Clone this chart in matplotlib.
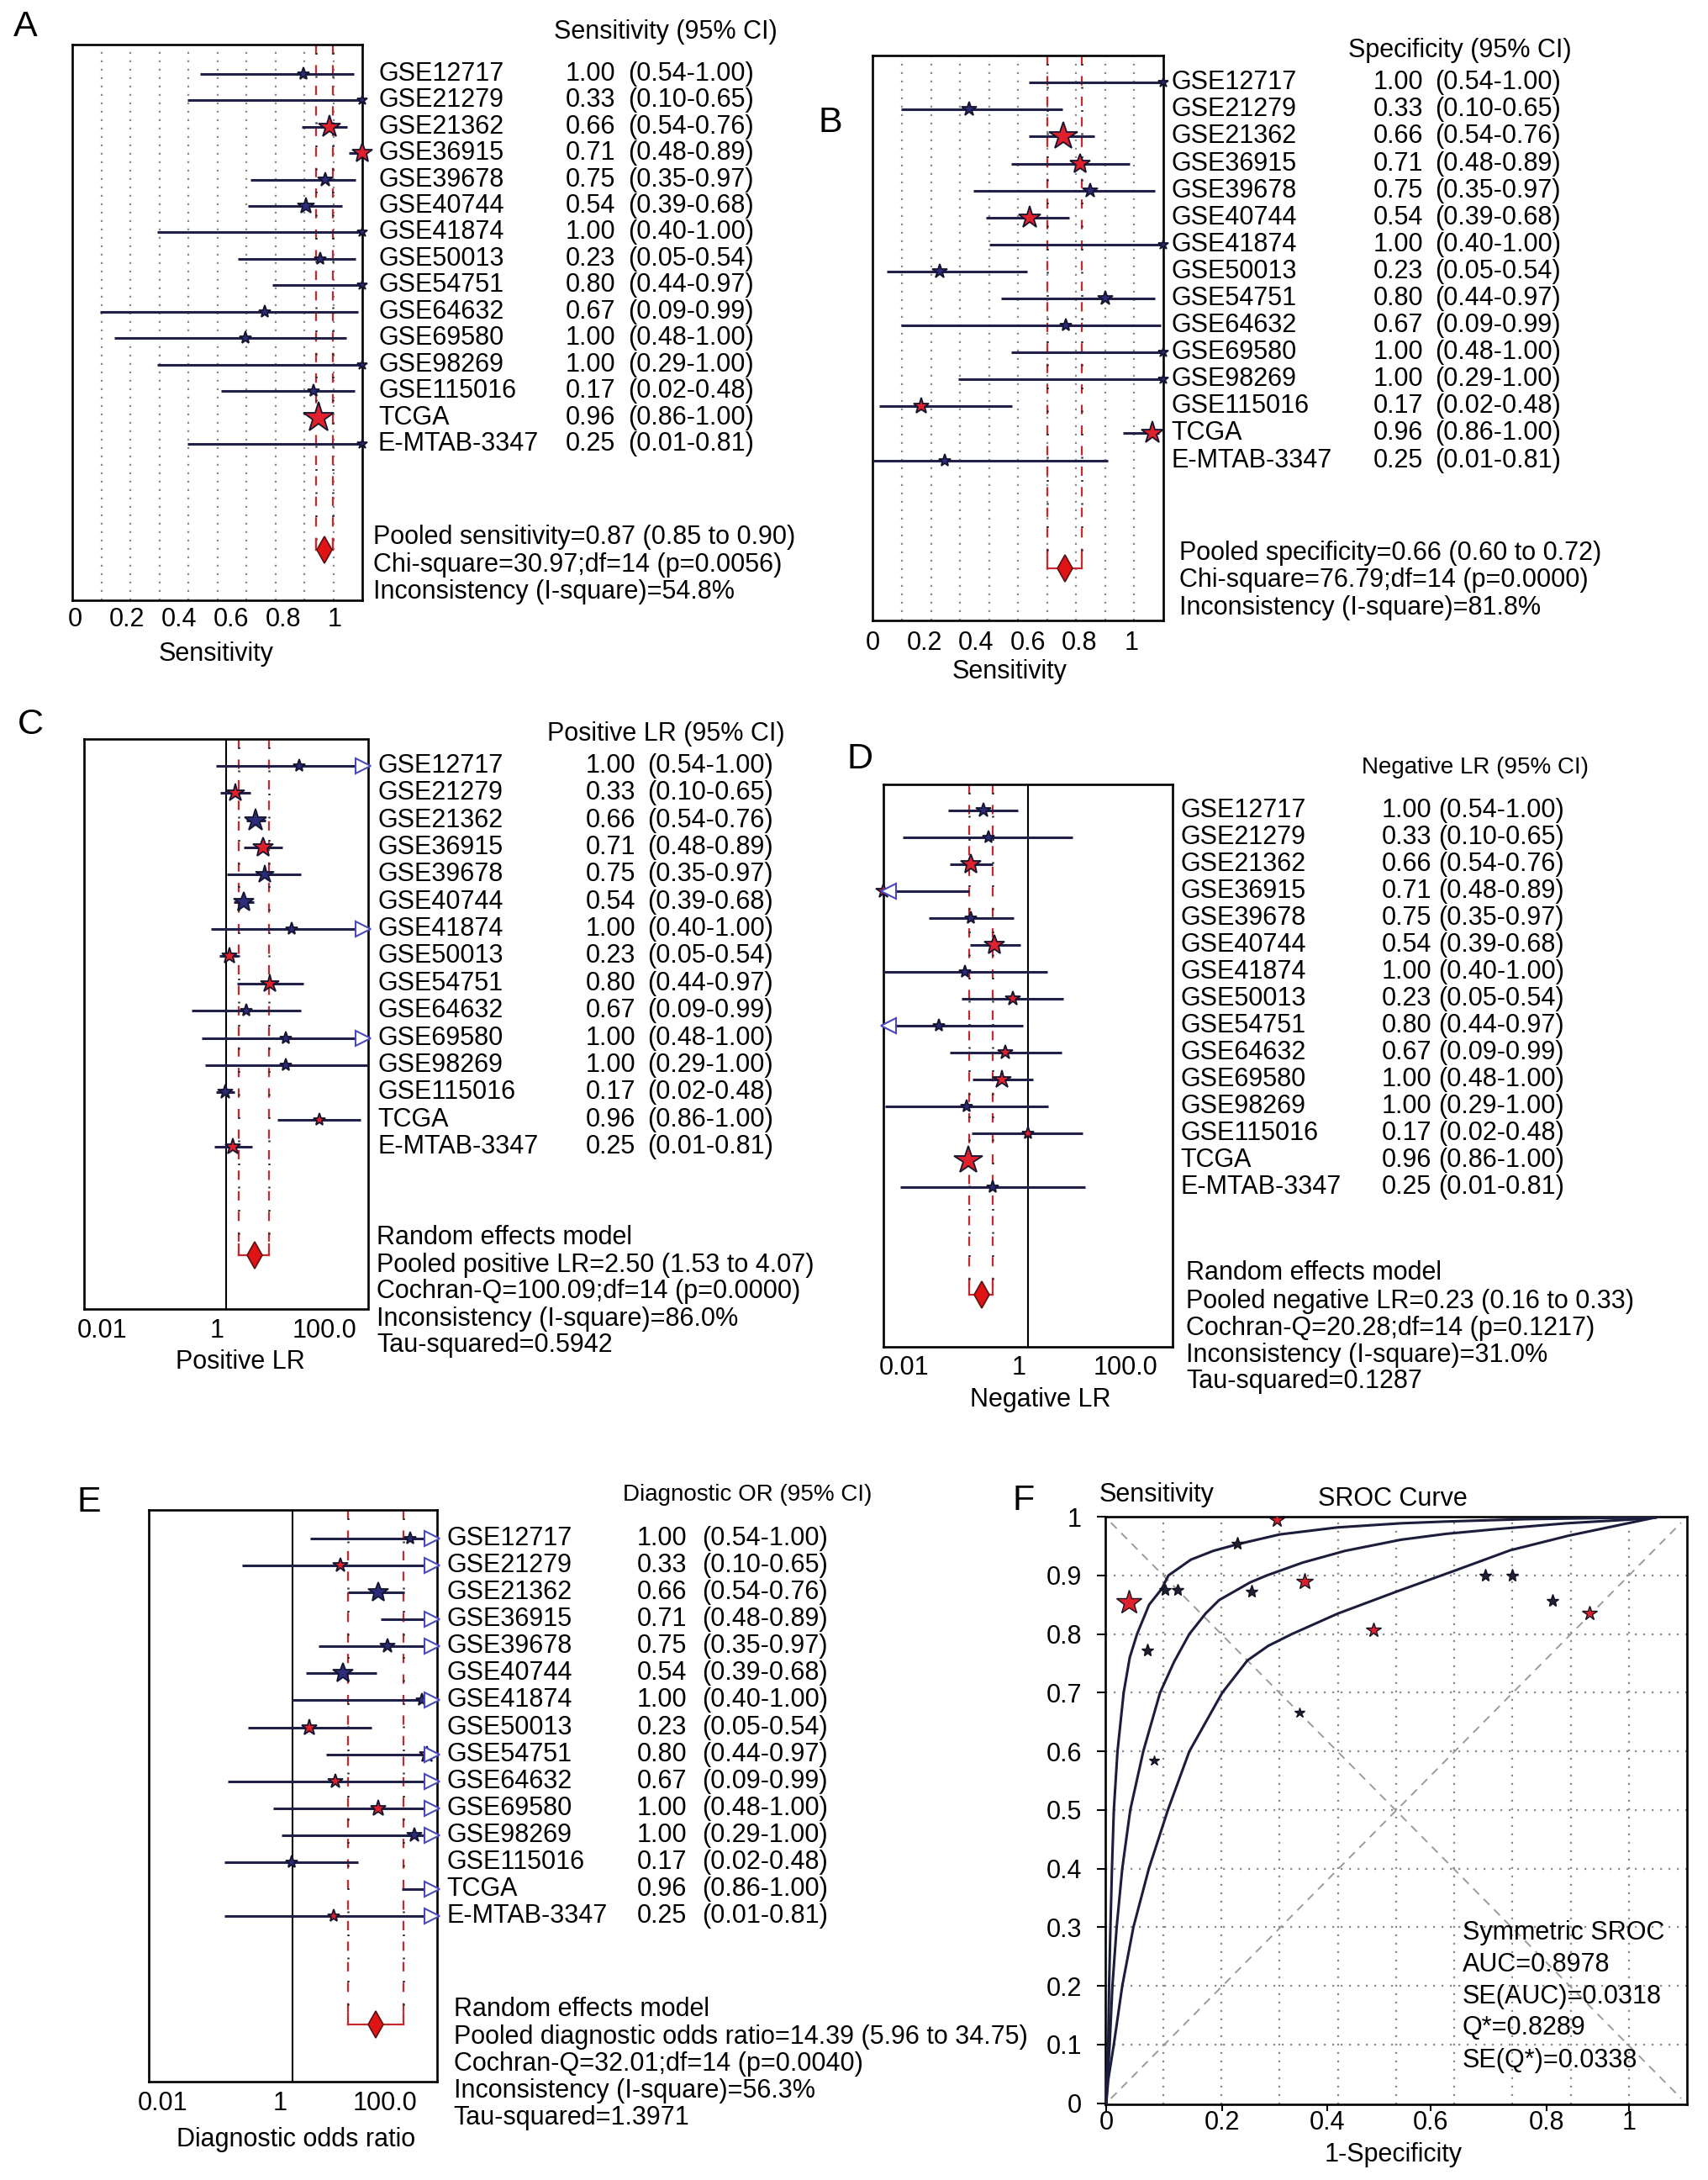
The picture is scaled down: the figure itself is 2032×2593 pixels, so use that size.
import numpy as np
import matplotlib
matplotlib.use("Agg")
import matplotlib.pyplot as plt
from matplotlib.ticker import NullLocator

plt.rcParams["font.family"] = ["Liberation Sans", "DejaVu Sans"]

W, H = 2032, 2593
FS = 22
LINE_C = "#202048"
STAR_EC = "#141430"
BLUE = "#2c2c7a"
RED = "#e0202a"

# ---- data ----
STUDIES = ["GSE12717", "GSE21279", "GSE21362", "GSE36915", "GSE39678", "GSE40744",
           "GSE41874", "GSE50013", "GSE54751", "GSE64632", "GSE69580", "GSE98269",
           "GSE115016", "TCGA", "E-MTAB-3347"]
VALUES = ["1.00", "0.33", "0.66", "0.71", "0.75", "0.54", "1.00", "0.23", "0.80",
          "0.67", "1.00", "1.00", "0.17", "0.96", "0.25"]
CIS = ["(0.54-1.00)", "(0.10-0.65)", "(0.54-0.76)", "(0.48-0.89)", "(0.35-0.97)",
       "(0.39-0.68)", "(0.40-1.00)", "(0.05-0.54)", "(0.44-0.97)", "(0.09-0.99)",
       "(0.48-1.00)", "(0.29-1.00)", "(0.02-0.48)", "(0.86-1.00)", "(0.01-0.81)"]

# A: sensitivity forest
sens_lo = [0.480, 0.433, 0.873, 1.052, 0.676, 0.664, 0.316, 0.625, 0.758, 0.097, 0.151, 0.316, 0.563, 0.925, 0.433]
sens_hi = [1.072, 1.105, 1.046, 1.105, 1.080, 1.026, 1.105, 1.079, 1.105, 1.089, 1.042, 1.105, 1.075, 0.952, 1.105]
sens_pt = [0.877, 1.105, 0.978, 1.105, 0.962, 0.888, 1.105, 0.943, 1.105, 0.730, 0.656, 1.105, 0.917, 0.938, 1.105]
sens_size = [11, 9, 20, 18, 13, 15, 9, 11, 9, 11, 11, 9, 11, 27, 9]
sens_red = [0, 0, 1, 1, 0, 0, 0, 0, 0, 0, 0, 0, 0, 1, 0]
sens_pool = (0.928, 0.991, 0.959)

# B: specificity forest
spec_lo = [0.605, 0.109, 0.605, 0.536, 0.391, 0.438, 0.451, 0.055, 0.498, 0.109, 0.536, 0.331, 0.024, 0.968, 0.002]
spec_hi = [1.123, 0.733, 0.857, 0.993, 1.090, 0.760, 1.123, 0.598, 1.092, 1.113, 1.123, 1.123, 0.540, 1.107, 0.908]
spec_pt = [1.123, 0.374, 0.737, 0.801, 0.842, 0.607, 1.123, 0.259, 0.899, 0.748, 1.123, 1.123, 0.188, 1.081, 0.280]
spec_size = [9, 13, 25, 18, 13, 20, 9, 13, 13, 11, 9, 9, 14, 20, 11]
spec_red = [0, 0, 1, 1, 0, 1, 0, 0, 0, 0, 0, 0, 1, 1, 0]
spec_pool = (0.675, 0.808, 0.744)

# C: positive LR forest
plr_lo = [0.72, 0.83, 1.95, 1.78, 1.04, 1.29, 0.61, 0.80, 1.43, 0.33, 0.45, 0.51, 0.72, 5.27, 0.69]
plr_hi = [100, 2.20, 3.61, 6.28, 11.5, 2.48, 100, 1.50, 12.4, 11.5, 100, 100, 1.31, 79.4, 2.33]
plr_pt = [10.7, 1.35, 2.62, 3.33, 3.51, 1.78, 8.55, 1.12, 4.19, 1.96, 6.97, 6.97, 0.97, 20.9, 1.26]
plr_size = [11, 16, 20, 18, 16, 18, 11, 14, 16, 11, 11, 11, 13, 11, 14]
plr_red = [0, 1, 0, 1, 0, 0, 0, 1, 1, 0, 0, 0, 0, 1, 1]
plr_arrow = [1, 0, 0, 0, 0, 0, 1, 0, 0, 0, 1, 0, 0, 0, 0]
plr_pool = (1.51, 4.06, 2.54)

# D: negative LR forest
nlr_lo = [0.080, 0.0185, 0.084, 0.01, 0.043, 0.158, 0.01, 0.123, 0.01, 0.083, 0.170, 0.0106, 0.167, 0.135, 0.0174]
nlr_hi = [0.72, 4.2, 0.327, 0.153, 0.63, 0.79, 1.84, 3.12, 0.855, 2.96, 1.19, 1.90, 5.77, 0.162, 6.18]
nlr_pt = [0.242, 0.289, 0.162, 0.01, 0.162, 0.347, 0.136, 0.617, 0.059, 0.494, 0.444, 0.141, 1.0, 0.149, 0.33]
nlr_size = [13, 11, 18, 13, 11, 18, 11, 13, 11, 13, 16, 11, 11, 25, 11]
nlr_red = [0, 0, 1, 1, 0, 1, 0, 1, 0, 1, 1, 0, 1, 1, 0]
nlr_arrow = [0, 0, 0, 1, 0, 0, 0, 0, 1, 0, 0, 0, 0, 0, 0]
nlr_pool = (0.156, 0.327, 0.23)

# E: diagnostic odds ratio forest
dor_lo = [1.74, 0.20, 5.9, 16.5, 2.25, 1.53, 0.96, 0.238, 2.92, 0.125, 0.537, 0.69, 0.112, 32.8, 0.112]
dor_hi = [100, 100, 35.7, 100, 100, 14.5, 100, 12.5, 100, 100, 100, 100, 8.15, 100, 100]
dor_pt = [42.5, 4.57, 15.5, np.nan, 20.5, 4.99, 62.4, 1.71, 72.4, 3.85, 15.5, 48.3, 0.96, np.nan, 3.69]
dor_size = [11, 13, 18, 0, 13, 18, 11, 14, 14, 13, 14, 13, 11, 0, 11]
dor_red = [0, 1, 0, 0, 0, 0, 0, 1, 1, 1, 1, 0, 0, 0, 1]
dor_arrow = [1, 1, 0, 1, 1, 0, 1, 0, 1, 1, 1, 1, 0, 1, 1]
dor_pool = (5.9, 34.2, 14.2)

# F: SROC
sroc_fpr = [0.327, 0.251, 0.112, 0.137, 0.044, 0.278, 0.380, 0.079, 0.092, 0.369, 0.511, 0.725, 0.776, 0.854, 0.924]
sroc_sens = [0.994, 0.955, 0.876, 0.876, 0.854, 0.873, 0.890, 0.772, 0.584, 0.666, 0.807, 0.900, 0.900, 0.857, 0.835]
sroc_size = [13, 11, 10, 10, 22, 11, 15, 11, 9, 9, 13, 11, 11, 11, 13]
sroc_red = [1, 0, 0, 0, 1, 0, 1, 0, 0, 0, 1, 0, 0, 0, 1]
sroc_xticks = [0, 0.222, 0.423, 0.621, 0.843, 1.0]
sroc_xticklabels = ["0", "0.2", "0.4", "0.6", "0.8", "1"]

upper_fpr = [0, 0.0013, 0.0039, 0.0055, 0.0081, 0.011, 0.0146, 0.0216, 0.0334, 0.045, 0.059, 0.082, 0.106, 0.119,
             0.162, 0.205, 0.250, 0.332, 0.443, 0.564, 0.650, 0.80, 0.95, 1.051]
upper_sens = [0, 0.05, 0.1, 0.2, 0.3, 0.4, 0.5, 0.6, 0.7, 0.76, 0.8, 0.85, 0.877, 0.9,
              0.927, 0.942, 0.953, 0.970, 0.982, 0.989, 0.992, 0.996, 0.998, 0.999]
mid_fpr = [0, 0.0025, 0.0066, 0.0119, 0.020, 0.0307, 0.046, 0.0709, 0.103, 0.130, 0.159, 0.190, 0.216, 0.275,
           0.307, 0.376, 0.457, 0.564, 0.650, 0.746, 0.880, 1.014, 1.051]
mid_sens = [0, 0.04, 0.1, 0.2, 0.3, 0.4, 0.5, 0.6, 0.7, 0.753, 0.8, 0.835, 0.858, 0.888,
            0.9, 0.922, 0.942, 0.961, 0.971, 0.979, 0.989, 0.996, 0.999]
low_fpr = [0, 0.0039, 0.0146, 0.0307, 0.052, 0.0816, 0.118, 0.159, 0.222, 0.270, 0.310, 0.355, 0.443, 0.554,
           0.585, 0.666, 0.773, 0.885, 0.987, 1.051]
low_sens = [0, 0.04, 0.1, 0.2, 0.3, 0.4, 0.5, 0.6, 0.7, 0.755, 0.78, 0.8, 0.835, 0.872,
            0.882, 0.908, 0.943, 0.968, 0.987, 0.999]

fig = plt.figure(figsize=(W / 100, H / 100), dpi=100)


def ftext(x, y, s, **kw):
    kw.setdefault("fontsize", FS)
    kw.setdefault("va", "center")
    fig.text(x / W, 1 - y / H, s, **kw)


def px_axes(l, t, r, b):
    return fig.add_axes([l / W, 1 - b / H, (r - l) / W, (b - t) / H])


def forest(box, xlim, log, lo, hi, pt, size, red, pool, row0, step,
           arrows=None, arrow_side=">", grid=False, one_line=False,
           ticks=None, ticklabels=None, tick_y=0):
    ax = px_axes(*box)
    if log:
        ax.set_xscale("log")
    ax.set_xlim(*xlim)
    ytop = (box[1] - row0) / step
    ybot = (box[3] - row0) / step
    ax.set_ylim(ybot, ytop)
    ax.set_yticks([])
    for s in ax.spines.values():
        s.set_linewidth(1.9)
    if grid:
        x0, x1 = xlim
        for k in range(1, 10):
            ax.axvline(x0 + k * (x1 - x0) / 10, color="#8a8a8a", ls=(0, (1, 3.5)), lw=1.6, zorder=1)
    if one_line:
        ax.axvline(1, color="black", lw=1.5, zorder=1)
    # pooled estimate lines + diamond
    pl, pr, pc = pool
    for xv in (pl, pr):
        ax.plot([xv, xv], [ytop, 18], color="#c8282d", lw=1.6, ls=(0, (5, 6)), zorder=2)
        ax.plot([xv, xv], [ytop, 18], color="#2a2a2a", lw=1.8, ls=(7.2, (0.8, 10.2)), zorder=2)
    ax.plot([pl, pr], [18, 18], color="#c8282d", lw=1.6, zorder=2)
    ax.plot([pl, pl], [17.6, 18], color="#c8282d", lw=1.6, zorder=2)
    ax.plot([pr, pr], [17.6, 18], color="#c8282d", lw=1.6, zorder=2)
    ax.plot(pc, 18, marker="d", ms=16, mfc="#e01414", mec="#5a1010", mew=1.2, zorder=5)
    # studies
    for i in range(len(lo)):
        ax.plot([lo[i], hi[i]], [i, i], color=LINE_C, lw=2.2, zorder=3,
                solid_capstyle="butt", clip_on=False)
        if not np.isnan(pt[i]) and size[i] > 0:
            ax.plot(pt[i], i, marker="*", ms=size[i], mfc=RED if red[i] else BLUE,
                    mec=STAR_EC, mew=1.3, zorder=4, clip_on=False)
        if arrows is not None and arrows[i]:
            if arrow_side == ">":
                xa = hi[i] / 1.17
            else:
                xa = lo[i] * 1.17
            ax.plot(xa, i, marker=arrow_side, ms=13, mfc="white", mec="#4848c0",
                    mew=1.5, zorder=4, clip_on=False)
    ax.xaxis.set_minor_locator(NullLocator())
    ax.set_xticks(ticks)
    ax.set_xticklabels(ticklabels)
    ax.tick_params(axis="x", length=0, labelsize=FS, pad=(tick_y - box[3]) / 1.389)
    for lab in ax.get_xticklabels():
        lab.set_va("center")
    return ax


def columns(header, hx, hy, xs, row0, step, hsize=FS):
    ftext(hx, hy, header, fontsize=hsize)
    for i in range(len(STUDIES)):
        y = row0 + i * step
        ftext(xs[0], y, STUDIES[i])
        ftext(xs[1], y, VALUES[i])
        ftext(xs[2], y, CIS[i])


def lines_text(x, ys, texts):
    for y, t in zip(ys, texts):
        ftext(x, y, t)


# ---- A ----
forest((86, 52.5, 431, 714), (-0.011, 1.105), False, sens_lo, sens_hi, sens_pt,
       sens_size, sens_red, sens_pool, 87.8, 31.44, grid=True,
       ticks=[0, 0.2, 0.4, 0.6, 0.8, 1], ticklabels=["0", "0.2", "0.4", "0.6", "0.8", "1"],
       tick_y=737)
ftext(257, 778, "Sensitivity", ha="center")
columns("Sensitivity (95% CI)", 659, 38, (450, 673, 747), 87.8, 31.44)
lines_text(444.5, (639, 672, 704), ["Pooled sensitivity=0.87 (0.85 to 0.90)",
                                     "Chi-square=30.97;df=14 (p=0.0056)",
                                     "Inconsistency (I-square)=54.8%"])
ftext(30, 32, "A", fontsize=31, ha="center")

# ---- B ----
forest((1038.2, 66.4, 1383.7, 738.5), (0.002, 1.123), False, spec_lo, spec_hi, spec_pt,
       spec_size, spec_red, spec_pool, 98.3, 32.09, grid=True,
       ticks=[0, 0.2, 0.4, 0.6, 0.8, 1], ticklabels=["0", "0.2", "0.4", "0.6", "0.8", "1"],
       tick_y=764.6)
ftext(1200.8, 799, "Sensitivity", ha="center")
columns("Specificity (95% CI)", 1604, 60, (1393.6, 1633.8, 1707.6), 98.3, 32.09)
lines_text(1402.8, (658, 690, 723), ["Pooled specificity=0.66 (0.60 to 0.72)",
                                      "Chi-square=76.79;df=14 (p=0.0000)",
                                      "Inconsistency (I-square)=81.8%"])
ftext(988, 146, "B", fontsize=31, ha="center")

# ---- C ----
forest((100.1, 878.6, 437.5, 1557.3), (0.01, 100), True, plr_lo, plr_hi, plr_pt,
       plr_size, plr_red, plr_pool, 911.1, 32.34, arrows=plr_arrow, one_line=True,
       ticks=[10 ** -1.75, 10 ** -0.124, 10 ** 1.388], ticklabels=["0.01", "1", "100.0"],
       tick_y=1583.3)
ftext(286, 1619.7, "Positive LR", ha="center")
columns("Positive LR (95% CI)", 650.6, 873.2, (449.6, 696.5, 769.8), 911.1, 32.34)
lines_text(448.4, (1472.2, 1504.7, 1536.2, 1568.7, 1599.6),
           ["Random effects model", "Pooled positive LR=2.50 (1.53 to 4.07)",
            "Cochran-Q=100.09;df=14 (p=0.0000)", "Inconsistency (I-square)=86.0%",
            "Tau-squared=0.5942"])
ftext(36, 862, "C", fontsize=31, ha="center")

# ---- D ----
forest((1050.7, 933.1, 1394.9, 1601.6), (0.01, 100), True, nlr_lo, nlr_hi, nlr_pt,
       nlr_size, nlr_red, nlr_pool, 963.8, 32.02, arrows=nlr_arrow, arrow_side="<",
       one_line=True, ticks=[10 ** -1.709, 10 ** -0.127, 10 ** 1.354],
       ticklabels=["0.01", "1", "100.0"], tick_y=1627)
ftext(1237.6, 1665, "Negative LR", ha="center")
columns("Negative LR (95% CI)", 1620, 912.5, (1404.8, 1643.7, 1710.9), 963.8, 32.02, hsize=20)
lines_text(1411.4, (1514.3, 1547.6, 1580.4, 1612.2, 1642.9),
           ["Random effects model", "Pooled negative LR=0.23 (0.16 to 0.33)",
            "Cochran-Q=20.28;df=14 (p=0.1217)", "Inconsistency (I-square)=31.0%",
            "Tau-squared=0.1287"])
ftext(1023, 903, "D", fontsize=31, ha="center")

# ---- E ----
forest((177, 1795.7, 519.8, 2475.7), (0.01, 100), True, dor_lo, dor_hi, dor_pt,
       dor_size, dor_red, dor_pool, 1829.9, 32.09, arrows=dor_arrow, one_line=True,
       ticks=[10 ** -1.805, 10 ** -0.182, 10 ** 1.279], ticklabels=["0.01", "1", "100.0"],
       tick_y=2501.9)
ftext(352, 2544.6, "Diagnostic odds ratio", ha="center")
columns("Diagnostic OR (95% CI)", 741.4, 1778, (531.7, 757.3, 835.5), 1829.9, 32.09, hsize=20)
lines_text(539.7, (2390.2, 2423.3, 2454.6, 2487, 2519),
           ["Random effects model", "Pooled diagnostic odds ratio=14.39 (5.96 to 34.75)",
            "Cochran-Q=32.01;df=14 (p=0.0040)", "Inconsistency (I-square)=56.3%",
            "Tau-squared=1.3971"])
ftext(106, 1787, "E", fontsize=31, ha="center")

# ---- F ----
axf = px_axes(1314.8, 1804.2, 2007, 2503)
xl = (-0.002, 1.111)
axf.set_xlim(*xl)
axf.set_ylim(-0.002, 1.0)
for s in axf.spines.values():
    s.set_linewidth(1.9)
for k in range(1, 10):
    axf.axvline(xl[0] + k * (xl[1] - xl[0]) / 10, color="#8a8a8a", ls=(0, (1, 3.5)), lw=1.6, zorder=1)
    axf.axhline(k / 10, color="#8a8a8a", ls=(0, (1, 3.5)), lw=1.6, zorder=1)
axf.plot([0.01, 0.99], [0.01, 0.99], transform=axf.transAxes, color="#9a9a9a",
         ls=(0, (5, 4)), lw=1.4, zorder=1)
axf.plot([0.01, 0.99], [0.99, 0.01], transform=axf.transAxes, color="#9a9a9a",
         ls=(0, (5, 4)), lw=1.4, zorder=1)
for fx, fy in ((upper_fpr, upper_sens), (mid_fpr, mid_sens), (low_fpr, low_sens)):
    axf.plot(fx, fy, color="#1c1c3c", lw=2.2, zorder=3, solid_joinstyle="round")
for i in range(len(sroc_fpr)):
    axf.plot(sroc_fpr[i], sroc_sens[i], marker="*", ms=sroc_size[i],
             mfc=RED if sroc_red[i] else "#202030", mec="#101020", mew=1.0, zorder=4)
axf.set_xticks(sroc_xticks)
axf.set_xticklabels(sroc_xticklabels)
axf.set_yticks([k / 10 for k in range(11)])
axf.set_yticklabels(["0"] + ["0.%d" % k for k in range(1, 10)] + ["1"])
axf.tick_params(axis="x", length=6, width=1.5, direction="out", labelsize=FS, pad=10)
axf.tick_params(axis="y", length=7, width=1.5, direction="out", labelsize=FS, pad=13)
for lab in axf.get_xticklabels():
    lab.set_va("center")
ftext(1658, 2562.8, "1-Specificity", ha="center")
ftext(1307.7, 1778, "Sensitivity")
ftext(1657, 1782.6, "SROC Curve", ha="center")
lines_text(1739.7, (2299, 2336.7, 2374.9, 2411.9, 2450.6),
           ["Symmetric SROC", "AUC=0.8978", "SE(AUC)=0.0318", "Q*=0.8289", "SE(Q*)=0.0338"])
ftext(1218, 1785, "F", fontsize=31, ha="center")

fig.savefig("out.png", dpi=100, facecolor="white")
